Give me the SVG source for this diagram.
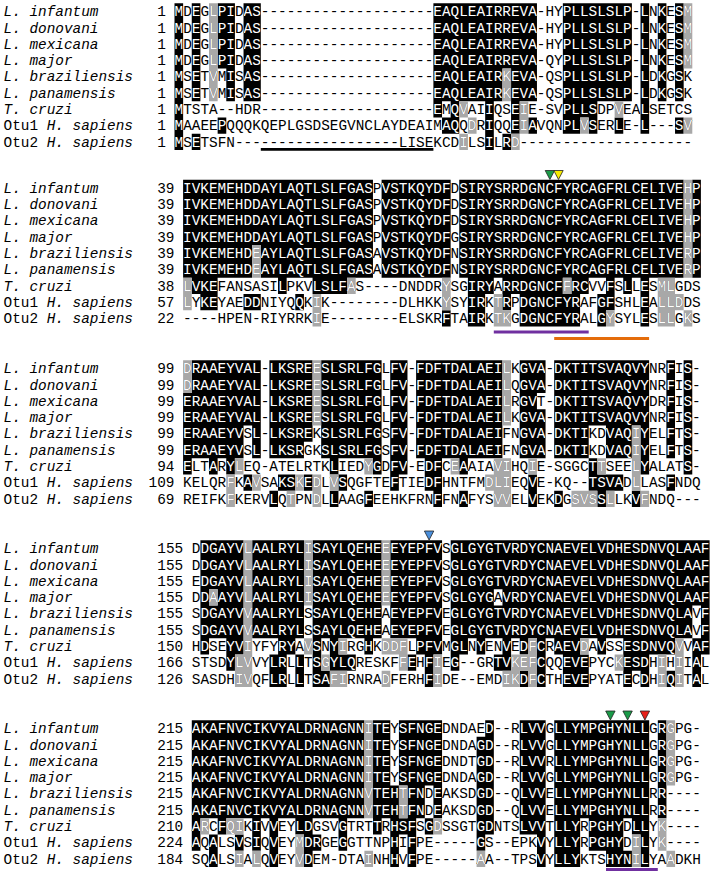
<svg xmlns="http://www.w3.org/2000/svg" xmlns:xlink="http://www.w3.org/1999/xlink" width="713" height="874" viewBox="0 0 713 874">
<style>
text{font-family:"Liberation Mono","Courier New",monospace;font-size:14.38px}
.it{font-style:italic}
.k{fill:#000}
.g{fill:#a8a8a8}
.num{text-anchor:end}
.tri{stroke:#222;stroke-width:0.8}
.ul{stroke-width:3;fill:none}
</style>
<defs>
<path id="k1" transform="translate(174.5 0) scale(8.63 16.3)" d="M0 0h1v9h-1z M2 0h1v6h-1z M2 8h1v1h-1z M5 0h2v4h-2z M6 4h1v2h-1z M5 7h1v1h-1z M8 0h2v6h-2z M30 0h12v4h-12z M30 4h8v2h-8z M39 4h3v2h-3z M30 6h1v1h-1z M32 6h1v1h-1z M36 6h1v1h-1z M39 6h1v1h-1z M45 6h4v1h-4z M54 6h1v1h-1z M31 7h2v1h-2z M36 7h1v1h-1z M39 7h1v1h-1z M41 7h1v1h-1z M45 7h2v1h-2z M48 7h1v1h-1z M51 7h1v1h-1z M54 7h1v1h-1z M58 7h1v1h-1z M36 8h1v1h-1z M38 8h1v1h-1z M45 0h8v6h-8z M54 0h1v6h-1z M56 0h1v6h-1z M58 0h1v6h-1z"/>
<path id="g1" transform="translate(174.5 0) scale(8.63 16.3)" d="M4 0h1v6h-1z M59 0h1v4h-1z M59 7h1v1h-1z M38 4h1v2h-1z M33 6h1v1h-1z M40 6h1v1h-1z M51 6h1v1h-1z M34 7h1v1h-1z M40 7h1v1h-1z M47 7h1v1h-1z M33 8h1v1h-1z M39 8h1v1h-1z"/>
<path id="k2" transform="translate(183.1 0) scale(8.63 16.3)" d="M0 0h22v4h-22z M0 4h8v2h-8z M9 4h13v2h-13z M23 0h8v6h-8z M32 0h26v6h-26z M59 0h1v6h-1z M1 6h3v1h-3z M11 6h1v1h-1z M15 6h4v1h-4z M33 6h3v1h-3z M37 6h7v1h-7z M45 6h2v1h-2z M49 6h1v1h-1z M51 6h1v1h-1z M53 6h1v1h-1z M2 7h2v1h-2z M7 7h2v1h-2z M13 7h1v1h-1z M33 7h2v1h-2z M37 7h1v1h-1z M39 7h7v1h-7z M48 7h2v1h-2z M53 7h1v1h-1z M30 8h1v1h-1z M33 8h2v1h-2z M39 8h7v1h-7z M48 8h1v1h-1z M53 8h1v1h-1z"/>
<path id="g2" transform="translate(183.1 0) scale(8.63 16.3)" d="M58 0h1v6h-1z M8 4h1v2h-1z M0 6h1v1h-1z M19 6h1v1h-1z M30 6h1v1h-1z M44 6h1v1h-1z M55 6h2v1h-2z M0 7h1v1h-1z M15 7h1v1h-1z M30 7h1v1h-1z M36 7h1v1h-1z M55 7h3v1h-3z M15 8h1v1h-1z M36 8h2v1h-2z M49 8h1v1h-1z M55 8h2v1h-2z M58 8h1v1h-1z"/>
<path id="k3" transform="translate(183.1 0) scale(8.63 16.3)" d="M1 0h6v6h-6z M0 2h1v4h-1z M7 0h1v4h-1z M8 0h1v6h-1z M10 0h4v6h-4z M14 0h1v5h-1z M16 0h7v6h-7z M24 0h2v6h-2z M27 0h10v6h-10z M39 0h2v6h-2z M41 0h1v2h-1z M41 3h1v3h-1z M43 0h4v6h-4z M47 0h2v4h-2z M49 0h3v6h-3z M52 0h1v4h-1z M53 0h1v6h-1z M56 0h1v6h-1z M58 0h1v6h-1z M0 6h1v1h-1z M3 6h1v1h-1z M5 6h1v1h-1z M17 6h1v1h-1z M22 6h1v1h-1z M24 6h2v1h-2z M28 6h2v1h-2z M32 6h1v1h-1z M47 6h1v1h-1z M53 6h1v1h-1z M58 6h1v1h-1z M7 7h1v1h-1z M11 7h2v1h-2z M14 7h1v1h-1z M18 7h1v1h-1z M24 7h1v1h-1z M28 7h2v1h-2z M40 7h1v1h-1z M47 7h4v1h-4z M56 7h1v1h-1z M10 8h1v1h-1z M17 8h1v1h-1z M21 8h1v1h-1z M29 8h1v1h-1z M32 8h1v1h-1z M40 8h1v1h-1z M43 8h1v1h-1z M48 8h1v1h-1z M52 8h1v1h-1z"/>
<path id="g3" transform="translate(183.1 0) scale(8.63 16.3)" d="M0 0h1v2h-1z M15 0h1v4h-1z M37 0h1v4h-1z M52 4h1v2h-1z M6 6h1v1h-1z M21 6h1v1h-1z M31 6h1v1h-1z M36 6h2v1h-2z M40 6h1v1h-1z M48 6h1v1h-1z M52 6h1v1h-1z M5 7h1v1h-1z M8 7h1v1h-1z M13 7h1v1h-1z M15 7h1v1h-1z M17 7h1v1h-1z M35 7h3v1h-3z M52 7h1v1h-1z M5 8h1v1h-1z M12 8h1v1h-1z M15 8h1v1h-1z M36 8h2v1h-2z M45 8h3v1h-3z M49 8h1v1h-1z M53 8h1v1h-1z"/>
<path id="k4" transform="translate(191.8 0) scale(8.63 16.3)" d="M1 0h1v6h-1z M2 0h1v3h-1z M2 4h1v2h-1z M3 0h3v6h-3z M7 0h6v6h-6z M14 0h8v6h-8z M23 0h6v6h-6z M30 0h5v6h-5z M35 0h1v3h-1z M35 4h1v2h-1z M36 0h22v6h-22z M58 0h1v4h-1z M59 0h1v6h-1z M1 6h1v1h-1z M4 6h2v1h-2z M10 6h2v1h-2z M14 6h1v1h-1z M16 6h1v1h-1z M20 6h1v1h-1z M26 6h3v1h-3z M30 6h2v1h-2z M33 6h1v1h-1z M36 6h1v1h-1z M38 6h1v1h-1z M40 6h1v1h-1z M42 6h3v1h-3z M47 6h1v1h-1z M50 6h6v1h-6z M58 6h2v1h-2z M4 7h1v1h-1z M9 7h2v1h-2z M12 7h1v1h-1z M14 7h1v1h-1z M16 7h3v1h-3z M25 7h1v1h-1z M27 7h1v1h-1z M30 7h1v1h-1z M35 7h2v1h-2z M40 7h1v1h-1z M43 7h3v1h-3z M50 7h3v1h-3z M58 7h1v1h-1z M9 8h2v1h-2z M12 8h1v1h-1z M14 8h2v1h-2z M27 8h1v1h-1z M38 8h1v1h-1z M40 8h1v1h-1z M43 8h3v1h-3z M50 8h1v1h-1z M52 8h1v1h-1z M55 8h1v1h-1z M58 8h1v1h-1z"/>
<path id="g4" transform="translate(191.8 0) scale(8.63 16.3)" d="M6 0h1v9h-1z M13 0h1v4h-1z M22 0h1v4h-1z M2 3h1v1h-1z M13 6h1v1h-1z M17 6h1v1h-1z M22 6h3v1h-3z M39 6h1v1h-1z M45 6h1v1h-1z M56 6h1v1h-1z M5 7h1v1h-1z M15 7h1v1h-1z M24 7h1v1h-1z M28 7h1v1h-1z M37 7h3v1h-3z M49 7h1v1h-1z M54 7h1v1h-1z M56 7h1v1h-1z M5 8h1v1h-1z M16 8h2v1h-2z M22 8h1v1h-1z M28 8h1v1h-1z M36 8h2v1h-2z M39 8h1v1h-1z M54 8h1v1h-1z M56 8h1v1h-1z"/>
<path id="k5" transform="translate(191.8 0) scale(8.63 16.3)" d="M0 0h20v6h-20z M21 0h2v6h-2z M23 4h1v5h-1z M24 0h1v4h-1z M25 0h2v6h-2z M27 0h1v4h-1z M28 0h1v6h-1z M33 1h1v5h-1z M34 0h1v6h-1z M38 0h3v6h-3z M42 0h11v6h-11z M54 0h1v6h-1z M0 6h1v1h-1z M3 6h1v1h-1z M7 6h1v1h-1z M9 6h1v1h-1z M12 6h2v1h-2z M17 6h1v1h-1z M21 6h1v1h-1z M24 6h2v1h-2z M27 6h1v1h-1z M33 6h2v1h-2z M38 6h3v1h-3z M42 6h3v1h-3z M46 6h4v1h-4z M51 6h2v1h-2z M0 7h1v1h-1z M2 7h1v1h-1z M5 7h1v1h-1z M7 7h1v1h-1z M9 7h1v1h-1z M13 7h2v1h-2z M17 7h1v1h-1z M25 7h1v1h-1z M33 7h1v1h-1z M40 7h1v1h-1z M42 7h3v1h-3z M46 7h4v1h-4z M52 7h1v1h-1z M2 8h1v1h-1z M9 8h1v1h-1z M13 8h1v1h-1z M25 8h1v1h-1z M40 8h1v1h-1z M42 8h3v1h-3z M48 8h3v1h-3z M52 8h1v1h-1z"/>
<path id="g5" transform="translate(191.8 0) scale(8.63 16.3)" d="M20 0h1v6h-1z M55 0h1v4h-1z M24 4h1v2h-1z M1 6h1v1h-1z M4 6h2v1h-2z M28 6h1v1h-1z M54 6h1v1h-1z M12 7h1v1h-1z M51 7h1v1h-1z M54 7h1v1h-1z M5 8h1v1h-1z M7 8h1v1h-1z M12 8h1v1h-1z M20 8h1v1h-1z M33 8h1v1h-1z M51 8h1v1h-1z M55 8h1v1h-1z"/>
<clipPath id="c1" clipPathUnits="userSpaceOnUse"><use href="#k1"/><use href="#g1"/></clipPath>
<clipPath id="c2" clipPathUnits="userSpaceOnUse"><use href="#k2"/><use href="#g2"/></clipPath>
<clipPath id="c3" clipPathUnits="userSpaceOnUse"><use href="#k3"/><use href="#g3"/></clipPath>
<clipPath id="c4" clipPathUnits="userSpaceOnUse"><use href="#k4"/><use href="#g4"/></clipPath>
<clipPath id="c5" clipPathUnits="userSpaceOnUse"><use href="#k5"/><use href="#g5"/></clipPath>
</defs>
<rect width="713" height="874" fill="#fff"/>

<g id="block1" transform="translate(0 3.35)">
<use href="#k1" class="k"/><use href="#g1" class="g"/>
<g id="labels1">
<text x="3.5" y="12.9" class="it">L. infantum</text>
<text x="3.5" y="29.2" class="it">L. donovani</text>
<text x="3.5" y="45.5" class="it">L. mexicana</text>
<text x="3.5" y="61.8" class="it">L. major</text>
<text x="3.5" y="78.1" class="it">L. braziliensis</text>
<text x="3.5" y="94.4" class="it">L. panamensis</text>
<text x="3.5" y="110.7" class="it">T. cruzi</text>
<text x="3.5" y="127">Otu1 <tspan class="it">H. sapiens</tspan></text>
<text x="3.5" y="143.3">Otu2 <tspan class="it">H. sapiens</tspan></text>
</g>
<g id="nums1" class="num">
<text x="165.9" y="12.9">1</text><text x="165.9" y="29.2">1</text><text x="165.9" y="45.5">1</text><text x="165.9" y="61.8">1</text><text x="165.9" y="78.1">1</text><text x="165.9" y="94.4">1</text><text x="165.9" y="110.7">1</text><text x="165.9" y="127">1</text><text x="165.9" y="143.3">1</text>
</g>
<g fill="#000"><g id="s1">
<text x="174.5" y="12.9">MDEGLPIDAS--------------------EAQLEAIRREVA-HYPLLSLSLP-LNKESM</text>
<text x="174.5" y="29.2">MDEGLPIDAS--------------------EAQLEAIRREVA-HYPLLSLSLP-LNKESM</text>
<text x="174.5" y="45.5">MDEGLPIDAS--------------------EAQLEAIRREVA-HYPLLSLSLP-LNKESM</text>
<text x="174.5" y="61.8">MDEGLPIDAS--------------------EAQLEAIRREVA-QYPLLSLSLP-LNKESM</text>
<text x="174.5" y="78.1">MSETVMISAS--------------------EAQLEAIRKEVA-QSPLLSLSLP-LDKGSK</text>
<text x="174.5" y="94.4">MSETVMISAS--------------------EAQLEAIRKEVA-QSPLLSLSLP-LDKGSK</text>
<text x="174.5" y="110.7">MTSTA--HDR--------------------EMQVAIIQSEIE-SVPLLSDPVEALSETCS</text>
<text x="174.5" y="127">MAAEEPQQQKQEPLGSDSEGVNCLAYDEAIMAQQDRIQQEIAVQNPLVSERLE-L---SV</text>
<text x="174.5" y="143.3">MSETSFN-------------------LISEKCDILSILRD--------------------</text>
</g></g>
<use href="#s1" fill="#fff" clip-path="url(#c1)"/>
</g>

<g id="block2" transform="translate(0 179.85)">
<use href="#k2" class="k"/><use href="#g2" class="g"/>
<g id="labels2">
<text x="3.5" y="12.9" class="it">L. infantum</text>
<text x="3.5" y="29.2" class="it">L. donovani</text>
<text x="3.5" y="45.5" class="it">L. mexicana</text>
<text x="3.5" y="61.8" class="it">L. major</text>
<text x="3.5" y="78.1" class="it">L. braziliensis</text>
<text x="3.5" y="94.4" class="it">L. panamensis</text>
<text x="3.5" y="110.7" class="it">T. cruzi</text>
<text x="3.5" y="127">Otu1 <tspan class="it">H. sapiens</tspan></text>
<text x="3.5" y="143.3">Otu2 <tspan class="it">H. sapiens</tspan></text>
</g>
<g id="nums2" class="num">
<text x="174.5" y="12.9">39</text><text x="174.5" y="29.2">39</text><text x="174.5" y="45.5">39</text><text x="174.5" y="61.8">39</text><text x="174.5" y="78.1">39</text><text x="174.5" y="94.4">39</text><text x="174.5" y="110.7">38</text><text x="174.5" y="127">57</text><text x="174.5" y="143.3">22</text>
</g>
<g fill="#000"><g id="s2">
<text x="183.1" y="12.9">IVKEMEHDDAYLAQTLSLFGASPVSTKQYDFDSIRYSRRDGNCFYRCAGFRLCELIVEHP</text>
<text x="183.1" y="29.2">IVKEMEHDDAYLAQTLSLFGASPVSTKQYDFDSIRYSRRDGNCFYRCAGFRLCELIVEHP</text>
<text x="183.1" y="45.5">IVKEMEHDDAYLAQTLSLFGASPVSTKQYDFDSIRYSRRDGNCFYRCAGFRLCELIVEHP</text>
<text x="183.1" y="61.8">IVKEMEHDDAYLAQTLSLFGASPVSTKQYDFGSIRYSRRDGNCFYRCAGFRLCELIVEHP</text>
<text x="183.1" y="78.1">IVKEMEHDEAYLAQTLSLFGASAVSTKQYDFNSIRYSRRDGNCFYRCAGFRLCELIVERP</text>
<text x="183.1" y="94.4">IVKEMEHDEAYLAQTLSLFGASAVSTKQYDFNSIRYSRRDGNCFYRCAGFRLCELIVERP</text>
<text x="183.1" y="110.7">LVKEFANSASILPKVLSLFAS----DNDDRYSGIRYARRDGNCFFRCVVFSLLESMLGDS</text>
<text x="183.1" y="127">LYKEYAEDDNIYQQKIK--------DLHKKYSYIRKTRPDGNCFYRAFGFSHLEALLDDS</text>
<text x="183.1" y="143.3">----HPEN-RIYRRKIE--------ELSKRFTAIRKTKGDGNCFYRALGYSYLESLLGKS</text>
</g></g>
<use href="#s2" fill="#fff" clip-path="url(#c2)"/>
</g>

<g id="block3" transform="translate(0 360.35)">
<use href="#k3" class="k"/><use href="#g3" class="g"/>
<g id="labels3">
<text x="3.5" y="12.9" class="it">L. infantum</text>
<text x="3.5" y="29.2" class="it">L. donovani</text>
<text x="3.5" y="45.5" class="it">L. mexicana</text>
<text x="3.5" y="61.8" class="it">L. major</text>
<text x="3.5" y="78.1" class="it">L. braziliensis</text>
<text x="3.5" y="94.4" class="it">L. panamensis</text>
<text x="3.5" y="110.7" class="it">T. cruzi</text>
<text x="3.5" y="127">Otu1 <tspan class="it">H. sapiens</tspan></text>
<text x="3.5" y="143.3">Otu2 <tspan class="it">H. sapiens</tspan></text>
</g>
<g id="nums3" class="num">
<text x="174.5" y="12.9">99</text><text x="174.5" y="29.2">99</text><text x="174.5" y="45.5">99</text><text x="174.5" y="61.8">99</text><text x="174.5" y="78.1">99</text><text x="174.5" y="94.4">99</text><text x="174.5" y="110.7">94</text><text x="174.5" y="127">109</text><text x="174.5" y="143.3">69</text>
</g>
<g fill="#000"><g id="s3">
<text x="183.1" y="12.9">DRAAEYVAL-LKSREESLSRLFGLFV-FDFTDALAEILKGVA-DKTITSVAQVYNRFIS-</text>
<text x="183.1" y="29.2">DRAAEYVAL-LKSREESLSRLFGLFV-FDFTDALAEILQGVA-DKTITSVAQVYNRFIS-</text>
<text x="183.1" y="45.5">ERAAEYVAL-LKSREESLSRLFGLFV-FDFTDALAEILRGVT-DKTITSVAQVYDRFIS-</text>
<text x="183.1" y="61.8">ERAAEYVAL-LKSREESLSRLFGLFV-FDFTDALAEILKGVA-DKTITSVAQVYNRFIS-</text>
<text x="183.1" y="78.1">ERAAEYVSL-LKSREKSLSRLFGSFV-FDFTDALAEIFNGVA-DKTIKDVAQIYELFTS-</text>
<text x="183.1" y="94.4">ERAAEYVSL-LKSRGKSLSRLFGSFV-FDFTDALAEIFNGVA-DKTIKDVAQIYELFTS-</text>
<text x="183.1" y="110.7">ELTARYLEQ-ATELRTKLIEDYGDFV-EDFCEAAIAVIHQIE-SGGCTTSEELYALATS-</text>
<text x="183.1" y="127">KELQRFKAVSAKSKEDLVSQGFTEFTIEDFHNTFMDLIEQVE-KQ--TSVADLLASFNDQ</text>
<text x="183.1" y="143.3">REIFKFKERVLQTPNDLLAAGFEEHKFRNFFNAFYSVVELVEKDGSVSSLLKVFNDQ---</text>
</g></g>
<use href="#s3" fill="#fff" clip-path="url(#c3)"/>
</g>

<g id="block4" transform="translate(0 540.35)">
<use href="#k4" class="k"/><use href="#g4" class="g"/>
<g id="labels4">
<text x="3.5" y="12.9" class="it">L. infantum</text>
<text x="3.5" y="29.2" class="it">L. donovani</text>
<text x="3.5" y="45.5" class="it">L. mexicana</text>
<text x="3.5" y="61.8" class="it">L. major</text>
<text x="3.5" y="78.1" class="it">L. braziliensis</text>
<text x="3.5" y="94.4" class="it">L. panamensis</text>
<text x="3.5" y="110.7" class="it">T. cruzi</text>
<text x="3.5" y="127">Otu1 <tspan class="it">H. sapiens</tspan></text>
<text x="3.5" y="143.3">Otu2 <tspan class="it">H. sapiens</tspan></text>
</g>
<g id="nums4" class="num">
<text x="183.2" y="12.9">155</text><text x="183.2" y="29.2">155</text><text x="183.2" y="45.5">155</text><text x="183.2" y="61.8">155</text><text x="183.2" y="78.1">155</text><text x="183.2" y="94.4">155</text><text x="183.2" y="110.7">150</text><text x="183.2" y="127">166</text><text x="183.2" y="143.3">126</text>
</g>
<g fill="#000"><g id="s4">
<text x="191.8" y="12.9">DDGAYVLAALRYLISAYLQEHEEEYEPFVSGLGYGTVRDYCNAEVELVDHESDNVQLAAF</text>
<text x="191.8" y="29.2">DDGAYVLAALRYLISAYLQEHEEEYEPFVSGLGYGTVRDYCNAEVELVDHESDNVQLAAF</text>
<text x="191.8" y="45.5">EDGAYVLAALRYLISAYLQEHEEEYEPFVSGLGYGTVRDYCNAEVELVDHESDNVQLAAF</text>
<text x="191.8" y="61.8">DDAAYVLAALRYLISAYLQEHEEEYEPFVSGLGYGAVRDYCNAEVELVDHESDNVQLAAF</text>
<text x="191.8" y="78.1">SDGAYVVAALRYLSSAYLQEHEAEYEPFVEGLGYGTVRDYCNAEVELVDHESDNVQLAVF</text>
<text x="191.8" y="94.4">SDGAYVVAALRYLSSAYLQEHEAEYEPFVEGLGYGTVRDYCNAEVELVDHESDNVQLAVF</text>
<text x="191.8" y="110.7">HDSEYVIYFYRYAVSNYIRGHKDDFLPFVMGLNYENVEDFCRAEVDAVSSESDNVQVVAF</text>
<text x="191.8" y="127">STSDYLVVYLRLLTSGYLQRESKFFEHFIEG--GRTVKEFCQQEVEPYCKESDHIHIIAL</text>
<text x="191.8" y="143.3">SASDHIVQFLRLLTSAFIRNRADFERHFIDE--EMDIKDFCTHEVEPYATECDHIQITAL</text>
</g></g>
<use href="#s4" fill="#fff" clip-path="url(#c4)"/>
</g>

<g id="block5" transform="translate(0 720.35)">
<use href="#k5" class="k"/><use href="#g5" class="g"/>
<g id="labels5">
<text x="3.5" y="12.9" class="it">L. infantum</text>
<text x="3.5" y="29.2" class="it">L. donovani</text>
<text x="3.5" y="45.5" class="it">L. mexicana</text>
<text x="3.5" y="61.8" class="it">L. major</text>
<text x="3.5" y="78.1" class="it">L. braziliensis</text>
<text x="3.5" y="94.4" class="it">L. panamensis</text>
<text x="3.5" y="110.7" class="it">T. cruzi</text>
<text x="3.5" y="127">Otu1 <tspan class="it">H. sapiens</tspan></text>
<text x="3.5" y="143.3">Otu2 <tspan class="it">H. sapiens</tspan></text>
</g>
<g id="nums5" class="num">
<text x="183.2" y="12.9">215</text><text x="183.2" y="29.2">215</text><text x="183.2" y="45.5">215</text><text x="183.2" y="61.8">215</text><text x="183.2" y="78.1">215</text><text x="183.2" y="94.4">215</text><text x="183.2" y="110.7">210</text><text x="183.2" y="127">224</text><text x="183.2" y="143.3">184</text>
</g>
<g fill="#000"><g id="s5">
<text x="191.8" y="12.9">AKAFNVCIKVYALDRNAGNNITEYSFNGEDNDAED--RLVVGLLYMPGHYNLLGRGPG-</text>
<text x="191.8" y="29.2">AKAFNVCIKVYALDRNAGNNITEYSFNGEDNDAGD--RLVVGLLYMPGHYNLLGRGPG-</text>
<text x="191.8" y="45.5">AKAFNVCIKVYALDRNAGNNITEYSFNGEDNDTGD--RLVVRLLYMPGHYNLLGRGPG-</text>
<text x="191.8" y="61.8">AKAFNVCIKVYALDRNAGNNITEYSFNGEDNDAGD--RLVVGLLYMPGHYNLLGRGPG-</text>
<text x="191.8" y="78.1">AKAFNVCIKVYALDRNAGNNVTEHTFNDEAKSDGD--QLVVELLYMPGHYNLLRR----</text>
<text x="191.8" y="94.4">AKAFNVCIKVYALDRNAGNNVTEHTFNDEAKSDGD--QLVVELLYMPGHYNLLRR----</text>
<text x="191.8" y="110.7">ARCFQIKIVVEYLDGSVGTRTTRHSFSGDSSGTGDNTSLVVTLLYRPGHYDLLYK----</text>
<text x="191.8" y="127">AQALSVSIQVEYMDRGEGGTTNPHIFPE-----GS--EPKVYLLYRPGHYDILYK----</text>
<text x="191.8" y="143.3">SQALSIALQVEYVDEM-DTAINHHVFPE-----AA--TPSVYLLYKTSHYNILYAADKH</text>
</g></g>
<use href="#s5" fill="#fff" clip-path="url(#c5)"/>
</g>

<g id="annotations">
<line class="ul" x1="260.8" y1="149.3" x2="433.4" y2="149.3" stroke="#000" style="stroke-width:2.8"/>
<line class="ul" x1="493.8" y1="332" x2="588.7" y2="332" stroke="#7030a0"/>
<line class="ul" x1="554.2" y1="338.5" x2="649.1" y2="338.5" stroke="#e46c0a"/>
<line class="ul" x1="606" y1="869.5" x2="657.8" y2="869.5" stroke="#7030a0"/>
<polygon class="tri" points="545.2,170.5 554.6,170.5 549.9,179.5" fill="#1a9a48"/>
<polygon class="tri" points="553.8,170.5 563.2,170.5 558.5,179.5" fill="#f5ea00"/>
<polygon class="tri" points="424.4,531 433.8,531 429.1,540" fill="#4a8fdc"/>
<polygon class="tri" points="605.7,711 615.1,711 610.4,720" fill="#1a9a48"/>
<polygon class="tri" points="622.9,711 632.3,711 627.6,720" fill="#1a9a48"/>
<polygon class="tri" points="640.2,711 649.6,711 644.9,720" fill="#e8201a"/>
</g>
</svg>
